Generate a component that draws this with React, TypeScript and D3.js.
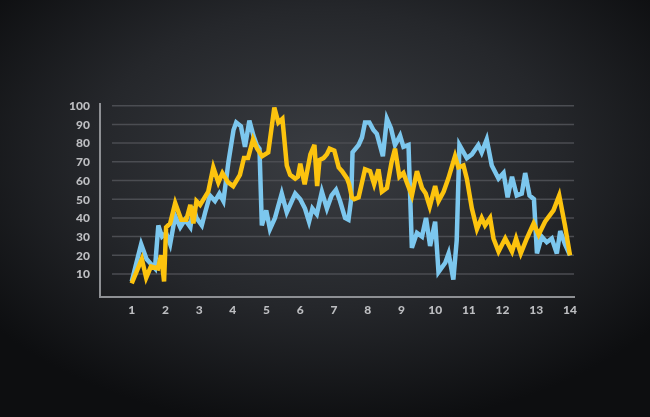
import React from 'react';
import * as d3 from 'd3';

// series: [x, value]
const blueSeries: [number, number][] = [
  [1.0, 6], [1.28, 26], [1.44, 18], [1.69, 13], [1.79, 36], [1.9, 30], [2.02, 32],
  [2.14, 26], [2.29, 41], [2.44, 35], [2.58, 39], [2.74, 35], [2.83, 46], [2.92, 40],
  [3.08, 36], [3.18, 43], [3.32, 52], [3.47, 49], [3.6, 53], [3.72, 49], [3.87, 70],
  [4.02, 87], [4.1, 91], [4.24, 89], [4.36, 78], [4.49, 92], [4.61, 84], [4.71, 79],
  [4.79, 77], [4.86, 36], [4.99, 44], [5.1, 34], [5.25, 40], [5.45, 53], [5.6, 43],
  [5.85, 53], [6.0, 50], [6.14, 45], [6.26, 38], [6.36, 45], [6.49, 42], [6.64, 54],
  [6.79, 45], [6.93, 52], [7.06, 55], [7.18, 49], [7.33, 40], [7.43, 39], [7.51, 50],
  [7.55, 75], [7.73, 79], [7.83, 83], [7.92, 91], [8.05, 91], [8.17, 87], [8.27, 85],
  [8.45, 73], [8.57, 93], [8.69, 88], [8.81, 79], [8.96, 84], [9.06, 78], [9.21, 79],
  [9.31, 24], [9.46, 32], [9.61, 30], [9.73, 40], [9.85, 25], [10.0, 38], [10.1, 11],
  [10.3, 16], [10.4, 21], [10.54, 7], [10.64, 28], [10.72, 79], [10.94, 72], [11.09, 74],
  [11.28, 79], [11.38, 75], [11.53, 82], [11.68, 68], [11.88, 61], [12.03, 64],
  [12.15, 51], [12.28, 62], [12.42, 52], [12.57, 53], [12.67, 64], [12.8, 52],
  [12.93, 50], [13.02, 21], [13.16, 30], [13.31, 27], [13.46, 29], [13.61, 21],
  [13.71, 33], [13.85, 26], [14.0, 20],
];

const yellowSeries: [number, number][] = [
  [1.0, 5], [1.3, 18], [1.43, 8], [1.57, 14], [1.78, 13], [1.87, 20], [1.96, 6],
  [2.02, 35], [2.14, 37], [2.29, 48], [2.47, 39], [2.62, 39], [2.74, 47], [2.83, 37],
  [2.92, 49], [3.03, 47], [3.27, 54], [3.42, 67], [3.57, 59], [3.69, 64], [3.86, 59],
  [4.01, 57], [4.21, 63], [4.33, 72], [4.45, 72], [4.6, 82], [4.72, 77], [4.87, 73],
  [5.05, 75], [5.23, 99], [5.35, 91], [5.47, 93], [5.6, 68], [5.7, 63], [5.85, 61],
  [5.93, 62], [6.0, 69], [6.13, 58], [6.3, 74], [6.42, 79], [6.5, 57], [6.57, 71],
  [6.69, 72], [6.79, 74], [6.87, 77], [7.01, 76], [7.14, 67], [7.24, 65], [7.39, 61],
  [7.45, 58], [7.53, 51], [7.6, 50], [7.73, 51], [7.92, 66], [8.07, 65], [8.19, 58],
  [8.32, 66], [8.42, 54], [8.57, 56], [8.71, 70], [8.81, 77], [8.94, 62], [9.06, 64],
  [9.16, 59], [9.31, 52], [9.46, 65], [9.61, 56], [9.72, 53], [9.84, 46], [10.0, 57],
  [10.1, 49], [10.25, 54], [10.39, 61], [10.59, 73], [10.69, 67], [10.84, 68],
  [10.94, 61], [11.09, 45], [11.24, 34], [11.38, 40], [11.48, 36], [11.63, 40],
  [11.73, 29], [11.88, 22], [12.08, 29], [12.28, 22], [12.4, 29], [12.54, 21],
  [12.72, 29], [12.92, 37], [13.07, 31], [13.26, 38], [13.51, 44], [13.68, 52],
  [13.85, 36], [14.0, 20],
];

const yTicks = [10, 20, 30, 40, 50, 60, 70, 80, 90, 100];
const xTicks = [1, 2, 3, 4, 5, 6, 7, 8, 9, 10, 11, 12, 13, 14];

const W = 650;
const H = 417;

export default function App() {
  const x = d3.scaleLinear().domain([1, 14]).range([131.7, 570]);
  const y = d3.scaleLinear().domain([0, 100]).range([292.7, 105.7]);

  const line = d3
    .line<[number, number]>()
    .x((d) => x(d[0]))
    .y((d) => y(d[1]));

  const gridLeft = 112;
  const gridRight = 574;
  const axisX = 100;
  const axisY = 297;
  const font = "Lato, 'Open Sans', sans-serif";

  return (
    <div style={{ position: 'fixed', left: 0, top: 0, width: W, height: H }}>
      <svg width={W} height={H} style={{ display: 'block' }}>
        <defs>
          <radialGradient id="bg" cx="50%" cy="38%" r="65%">
            <stop offset="0%" stopColor="#3a3d42" />
            <stop offset="55%" stopColor="#25272b" />
            <stop offset="100%" stopColor="#0d0e10" />
          </radialGradient>
        </defs>
        <rect width={W} height={H} fill="url(#bg)" />

        {/* grid */}
        {yTicks.map((t) => (
          <line
            key={'g' + t}
            x1={gridLeft}
            x2={gridRight}
            y1={y(t)}
            y2={y(t)}
            stroke="#4b4d52"
            strokeWidth={1.5}
          />
        ))}

        {/* y labels */}
        {yTicks.map((t) => (
          <text
            key={'y' + t}
            x={90}
            y={y(t)}
            dy="0.36em"
            textAnchor="end"
            fill="#bcbdc0"
            fontFamily={font}
            fontWeight={900}
            fontSize={12}
          >
            {t}
          </text>
        ))}

        {/* x labels */}
        {xTicks.map((t) => (
          <text
            key={'x' + t}
            x={x(t)}
            y={310}
            dy="0.36em"
            textAnchor="middle"
            fill="#bcbdc0"
            fontFamily={font}
            fontWeight={900}
            fontSize={12}
          >
            {t}
          </text>
        ))}

        {/* axes */}
        <path
          d={`M${axisX},103 V${axisY} H575`}
          fill="none"
          stroke="#8e9094"
          strokeWidth={2}
        />

        <path
          d={line(blueSeries) || ''}
          fill="none"
          stroke="#7cc7ee"
          strokeWidth={4.5}
          strokeLinejoin="miter"
          strokeMiterlimit={4}
        />
        <path
          d={line(yellowSeries) || ''}
          fill="none"
          stroke="#fcc30e"
          strokeWidth={4.5}
          strokeLinejoin="miter"
          strokeMiterlimit={4}
        />
      </svg>
    </div>
  );
}
